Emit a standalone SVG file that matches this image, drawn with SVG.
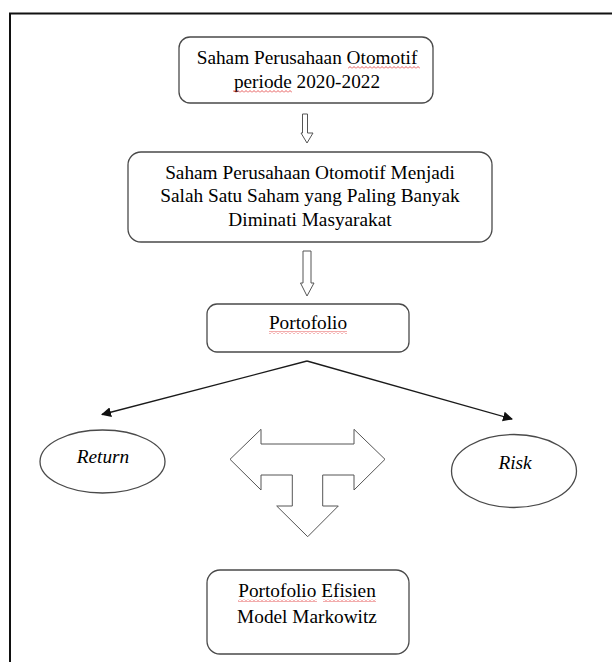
<svg xmlns="http://www.w3.org/2000/svg" width="612" height="662" viewBox="0 0 612 662">
<style>
.box{fill:#fff;stroke:#4a4a4a;stroke-width:1.3}
.t{font-family:'Liberation Serif','DejaVu Serif',serif;font-size:19.3px;fill:#000;text-anchor:middle}
.i{font-style:italic}
.hollow{fill:#fff;stroke:#555;stroke-width:1}
.con{stroke:#1a1a1a;stroke-width:1.3;fill:none}
</style>
<defs>
<marker id="ah" viewBox="0 0 10 10" refX="9" refY="5" markerWidth="10" markerHeight="10" markerUnits="userSpaceOnUse" orient="auto">
<path d="M0,0 L10,5 L0,10 Z" fill="#111"/>
</marker>
<pattern id="sq" width="4" height="3" patternUnits="userSpaceOnUse">
<path d="M0,2.5 L2,0.5 L4,2.5" fill="none" stroke="#e03030" stroke-width="0.8"/>
</pattern>
</defs>
<rect width="612" height="662" fill="#fff"/>
<path d="M10,662 V13.5 H612" fill="none" stroke="#111" stroke-width="2"/>

<g id="box1">
<rect class="box" x="179" y="37" width="254" height="66" rx="11"/>
<text class="t" x="307" y="64">Saham Perusahaan Otomotif</text>
<text class="t" x="307" y="88">periode 2020-2022</text>
<rect x="348" y="66" width="72" height="3" fill="url(#sq)"/>
<rect x="233" y="90" width="59" height="3" fill="url(#sq)"/>
</g>

<g id="arrow1">
<path class="hollow" d="M302.5,114 H307.5 V133 H313 L307,143 L301,133 H302.5 Z"/>
</g>

<g id="box2">
<rect class="box" x="128" y="152" width="364" height="90" rx="13"/>
<text class="t" x="310" y="179">Saham Perusahaan Otomotif Menjadi</text>
<text class="t" x="310" y="202">Salah Satu Saham yang Paling Banyak</text>
<text class="t" x="310" y="226">Diminati Masyarakat</text>
</g>

<g id="arrow2">
<path class="hollow" d="M303,251 H311 V283 H314 L307,296 L300.5,283 H303 Z"/>
</g>

<g id="portofolio">
<rect class="box" x="207" y="304" width="202" height="48" rx="10"/>
<text class="t" x="308" y="329">Portofolio</text>
<rect x="269" y="331" width="78" height="3" fill="url(#sq)"/>
</g>

<g id="connectors">
<path class="con" d="M307,361 L102,414.5" marker-end="url(#ah)"/>
<path class="con" d="M307,361 L512,419" marker-end="url(#ah)"/>
</g>

<g id="return">
<ellipse class="box" cx="102.5" cy="461.5" rx="62.5" ry="31.5"/>
<text class="t i" x="103" y="463">Return</text>
</g>

<g id="risk">
<ellipse class="box" cx="514" cy="471" rx="62.5" ry="36.5"/>
<text class="t i" x="515" y="469">Risk</text>
</g>

<g id="t-arrow">
<path class="hollow" d="M230,459.3 L261,429.3 V444 H354 V429.3 L385,459.3 L354,490 V475 H322.7 V506 H338.3 L307.7,536.7 L276.7,506 H292.3 V475 H261 V490 Z"/>
</g>

<g id="efisien">
<rect class="box" x="207" y="570" width="202" height="84" rx="13"/>
<text class="t" x="307" y="597">Portofolio Efisien</text>
<text class="t" x="307" y="623">Model Markowitz</text>
<rect x="238" y="599" width="79" height="3" fill="url(#sq)"/>
<rect x="323" y="599" width="53" height="3" fill="url(#sq)"/>
</g>
</svg>
